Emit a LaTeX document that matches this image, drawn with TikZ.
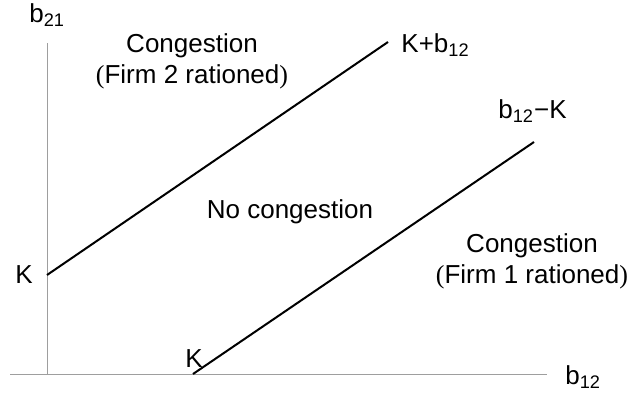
\documentclass[tikz,border=0pt]{standalone}
\usepackage{fontspec}
\setmainfont{Liberation Sans}
\newfontfamily\parenfont{Liberation Serif}
\begin{document}
\begin{tikzpicture}[x=0.5pt,y=-0.5pt,
  axis/.style={draw=black!38,line width=0.5pt},
  bound/.style={draw=black,line width=1pt},
  lbl/.style={inner sep=0pt,font=\fontsize{13}{15.5}\selectfont},
  region/.style={lbl,align=center,anchor=base}]
\useasboundingbox (0,0) rectangle (630,396);
% axes
 \coordinate (ytop) at (47,43);
 \coordinate (ybot) at (47,375);
 \coordinate (xleft) at (10,374);
 \coordinate (xright) at (547,374);
 \draw[axis] (ytop)--(ybot);
 \draw[axis] (xleft)--(xright);
 \node[lbl,anchor=base west] (b21) at (29,22) {b\textsubscript{21}};
 \node[lbl,anchor=base west] (b12) at (565,384) {b\textsubscript{12}};
% upper bound: b21 = K + b12
 \coordinate (upA) at (47,275);
 \coordinate (upB) at (388,42);
 \draw[bound] (upA)--(upB);
 \node[lbl,anchor=base west] (kleft) at (15,283) {K};
 \node[lbl,anchor=base west] (kplus) at (401,52) {K+b\textsubscript{12}};
% lower bound: b21 = b12 - K
 \coordinate (loA) at (193,374);
 \coordinate (loB) at (534,142);
 \draw[bound] (loA)--(loB);
 \node[lbl,anchor=base west] (kbot) at (185,367) {K};
 \node[lbl,anchor=base west] (kminus) at (498,118) {b\textsubscript{12}−K};
% regions (base = baseline of the second line)
 \node[region] (firm2) at (192,83) {Congestion\\{\parenfont(}Firm 2 rationed{\parenfont)}};
 \node[region] (nocong) at (290,218) {No congestion};
 \node[region] (firm1) at (532,283) {Congestion\\{\parenfont(}Firm 1 rationed{\parenfont)}};
\end{tikzpicture}
\end{document}
